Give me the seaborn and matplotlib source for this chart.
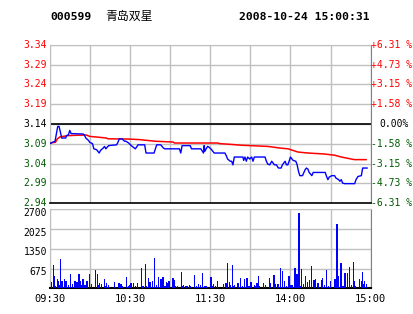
import numpy as np
import pandas as pd
import matplotlib
matplotlib.use("Agg")
import matplotlib.pyplot as plt
import matplotlib.transforms as mtransforms
import seaborn as sns

# ---------------- data ----------------
stock_code = "000599"
stock_name = "青岛双星"
timestamp = "2008-10-24 15:00:31"
prev_close = 3.14

price_minutes = [0, 4, 6, 7, 9, 12, 12.5, 14, 15, 16, 25, 26, 27, 29, 30, 32, 33, 35, 37, 38,
                 40, 41, 42, 44, 50, 51, 52, 54, 56, 57, 59, 61, 64, 65, 66, 71, 72, 78, 80, 83,
                 85, 86, 97, 98, 99, 105, 106, 113, 115, 115.5, 116, 118, 119, 121, 123, 131, 132,
                 133, 135, 136, 137, 138, 144.5, 145, 146, 147, 148, 149.5, 151, 152, 153, 161,
                 162, 163, 164.5, 166, 167, 168, 169.5, 171, 173, 174, 176, 177, 178, 179, 180,
                 182, 184, 185, 186, 187, 189, 191, 192, 193, 194, 196, 197, 206, 207, 208, 209,
                 211, 213, 214, 216, 217, 218, 219, 220.5, 228, 229, 230.5, 233, 234, 237.5]
price_values = [3.091, 3.097, 3.134, 3.134, 3.105, 3.105, 3.111, 3.113, 3.124, 3.116, 3.115,
                3.112, 3.105, 3.099, 3.094, 3.091, 3.078, 3.076, 3.0675, 3.074, 3.080, 3.084,
                3.078, 3.086, 3.088, 3.094, 3.103, 3.103, 3.097, 3.097, 3.0925, 3.086, 3.078,
                3.0825, 3.088, 3.088, 3.0675, 3.0675, 3.088, 3.088, 3.080, 3.078, 3.078, 3.0675,
                3.086, 3.086, 3.078, 3.078, 3.0675, 3.086, 3.072, 3.084, 3.0825, 3.076, 3.0675,
                3.0675, 3.061, 3.0525, 3.047, 3.047, 3.038, 3.0575, 3.0575, 3.049, 3.0575, 3.047,
                3.0575, 3.0525, 3.0575, 3.047, 3.0575, 3.0575, 3.047, 3.040, 3.038, 3.047, 3.0425,
                3.038, 3.038, 3.030, 3.030, 3.038, 3.047, 3.038, 3.038, 3.047, 3.0575, 3.049,
                3.047, 3.038, 3.022, 3.011, 3.011, 3.026, 3.030, 3.0275, 3.019, 3.011, 3.019,
                3.019, 3.009, 3.001, 3.0075, 3.011, 3.011, 3.005, 3.001, 2.997, 3.001, 2.9925,
                2.991, 2.991, 3.001, 3.009, 3.011, 3.030, 3.030]

avg_minutes = [0, 2.5, 4.2, 5.7, 7.4, 9.9, 13.7, 21.2, 27.4, 29.9, 34.9, 42.3, 43.6, 58.5, 67.3,
               78.5, 92.2, 93.4, 125.8, 127.1, 135.8, 143.3, 163.2, 171.9, 178.2, 185.6, 193.1,
               205.6, 213.1, 218.1, 225.5, 228, 236.7]
avg_values = [3.091, 3.094, 3.094, 3.1025, 3.1075, 3.109, 3.111, 3.112, 3.1125, 3.109, 3.1075,
              3.105, 3.103, 3.1025, 3.101, 3.097, 3.095, 3.0925, 3.0925, 3.091, 3.089, 3.087,
              3.084, 3.080, 3.078, 3.070, 3.0675, 3.065, 3.062, 3.0575, 3.0525, 3.051, 3.051]

vol_minutes = [0.2, 1, 2.5, 3.2, 4, 5.5, 6.2, 7, 8.4, 9.2, 11.4, 12.2, 12.9, 14.4, 15.2, 17.4,
               18.9, 20.4, 21.2, 21.9, 22.7, 23.4, 24.2, 24.9, 26.4, 27.1, 27.9, 29.4, 30.1,
               30.9, 33.9, 35.4, 36.1, 36.9, 38.4, 41.3, 42.1, 42.8, 44.3, 48.1, 48.8, 51.1,
               51.8, 53.3, 54.1, 57.1, 59.3, 60.0, 60.8, 63, 63.8, 66, 68.3, 69, 69.8, 71.3, 72,
               74.2, 75, 75.7, 77.2, 78, 78.7, 80.2, 81, 81.7, 83.2, 84, 84.7, 86.2, 87, 87.7,
               89.2, 92.2, 93, 93.7, 95.2, 98.2, 99, 99.7, 101.2, 101.9, 102.7, 104.2, 104.9,
               105.6, 108.6, 110.1, 110.9, 111.6, 113.1, 113.9, 114.6, 116.1, 116.9,
               119.9, 120.6, 122.1, 122.8, 124.3, 125.8, 129.6, 131.8, 132.6, 134.1, 134.8, 137,
               137.8, 138.5, 140.8, 141.5, 143, 143.8, 144.5, 146, 146.8, 147.5, 149, 149.8,
               150.5, 152.8, 153.5, 155, 155.8, 156.5, 159.5, 161, 161.7, 164, 164.7, 167,
               167.7, 168.5, 170, 170.7, 172.9, 173.7, 175.9, 176.7, 178.9, 180.4, 181.2, 182.7,
               183.4, 184.9, 185.6, 186.4, 187.9, 188.6, 189.4, 190.9, 192.4, 193.9, 194.6,
               195.4, 196.9, 197.6, 198.4, 199.9, 200.6, 201.3, 203.6, 204.3, 205.8, 207.3,
               208.1, 208.8, 210.3, 212.6, 213.3, 214.8, 215.6, 217.8, 218.5, 219.3, 220.8,
               221.5, 222.3, 223, 223.8, 224.5, 225.3, 226.8, 227.5, 228.3, 231.3, 232.8, 234.2,
               235, 235.7, 237.2]
vol_values = [229, 206, 812, 412, 80, 332, 263, 103, 995, 240, 332, 240, 103, 103, 503, 137,
              240, 206, 103, 503, 240, 103, 240, 332, 103, 80, 263, 480, 229, 137, 641, 480,
              103, 172, 137, 309, 80, 194, 103, 206, 69, 103, 172, 149, 69, 378, 69, 103, 172,
              172, 69, 172, 686, 69, 69, 824, 69, 343, 206, 69, 240, 1030, 103, 103, 69, 378,
              309, 103, 378, 69, 206, 172, 240, 343, 275, 69, 69, 549, 69, 103, 69, 69, 69, 103,
              69, 69, 446, 69, 103, 137, 103, 515, 103, 69, 69,
              103, 378, 69, 137, 69, 240, 137, 172, 858, 206, 103, 789, 69, 103, 172, 103, 343,
              69, 69, 309, 69, 343, 69, 103, 206, 103, 69, 172, 412, 69, 172, 103, 69, 343, 172,
              69, 446, 137, 137, 137, 686, 583, 240, 69, 412, 103, 103, 69, 686, 480, 137, 2574,
              69, 652, 137, 412, 206, 275, 172, 755, 275, 275, 309, 69, 172, 69, 275, 343, 103,
              618, 69, 69, 240, 240, 309, 2197, 412, 858, 172, 69, 515, 446, 515, 69, 103, 721,
              103, 892, 240, 69, 309, 240, 549, 137, 240, 137]

price_tick_labels = ["2.94", "2.99", "3.04", "3.09", "3.14", "3.19", "3.24", "3.29", "3.34"]
pct_tick_labels = ["-6.31 %", "-4.73 %", "-3.15 %", "-1.58 %", "0.00%",
                   "+1.58 %", "+3.15 %", "+4.73 %", "+6.31 %"]
vol_ticks = [675, 1350, 2025, 2700]
time_ticks = [0, 60, 120, 180, 240]
time_labels = ["09:30", "10:30", "11:30", "14:00", "15:00"]

# ---------------- style ----------------
sns.set_style("white")
plt.rcParams['font.family'] = ['DejaVu Sans Mono', 'Noto Sans CJK SC']

RED = "#FF0000"
GREEN = "#005A00"
GRID = "#C0C0C0"
FS = 7.0

fig = plt.figure(figsize=(4.14, 3.14), dpi=100)
W, H = 414, 314
x0, x1 = 49.7, 370.7
axp = fig.add_axes([x0 / W, 1 - 203.3 / H, (x1 - x0) / W, (203.3 - 44.7) / H])
axv = fig.add_axes([x0 / W, 1 - 288.3 / H, (x1 - x0) / W, (288.3 - 209.3) / H])

step = prev_close * 0.01577
ymin, ymax = prev_close - 4 * step, prev_close + 4 * step
yticks = [prev_close + k * step for k in range(-4, 5)]

# price panel
for t in range(0, 241, 30):
    axp.axvline(t, color=GRID, lw=1, zorder=0)
    axv.axvline(t, color=GRID, lw=1, zorder=0)
for y in yticks:
    axp.axhline(y, color=GRID, lw=1, zorder=0)
axp.axhline(prev_close, color="black", lw=1.2, zorder=1)

df_p = pd.DataFrame({"minute": price_minutes, "price": price_values})
df_a = pd.DataFrame({"minute": avg_minutes, "avg": avg_values})
sns.lineplot(data=df_a, x="minute", y="avg", ax=axp, color=RED, lw=1.1,
             estimator=None, sort=False, zorder=3)
sns.lineplot(data=df_p, x="minute", y="price", ax=axp, color="#0000FF", lw=1.0,
             estimator=None, sort=False, zorder=4)

axp.set_xlim(0, 240)
axp.set_ylim(ymin, ymax)
axp.set_xticks([])
axp.set_yticks([])
axp.set_xlabel("")
axp.set_ylabel("")
for s in ["top", "left"]:
    axp.spines[s].set_color(GRID)
axp.spines["right"].set_color("#808080")
axp.spines["bottom"].set_color("black")
axp.spines["bottom"].set_linewidth(1.2)

trans_l = mtransforms.blended_transform_factory(fig.transFigure, axp.transData)
for y, lab in zip(yticks, price_tick_labels):
    if abs(y - prev_close) < 1e-9:
        c = "black"
    elif y > prev_close:
        c = RED
    else:
        c = GREEN
    fig.text(47 / W, y, lab, transform=trans_l, ha="right", va="center",
             color=c, fontsize=FS)
for y, lab in zip(yticks, pct_tick_labels):
    if abs(y - prev_close) < 1e-9:
        c, xx = "black", 379
    elif y > prev_close:
        c, xx = RED, 371.5
    else:
        c, xx = GREEN, 371.5
    fig.text(xx / W, y, lab, transform=trans_l, ha="left", va="center",
             color=c, fontsize=FS)

# volume panel
for v in vol_ticks:
    axv.axhline(v, color=GRID, lw=1, zorder=0)
axv.bar(vol_minutes, vol_values, width=0.78, color="#0000FF", linewidth=0,
        antialiased=False, zorder=3)
axv.set_xlim(0, 240)
axv.set_ylim(0, 2700)
axv.set_yticks([])
axv.set_xticks([])
for s in ["top", "left"]:
    axv.spines[s].set_color(GRID)
axv.spines["right"].set_color("#808080")
axv.spines["bottom"].set_color("black")
axv.spines["bottom"].set_linewidth(1.5)

trans_v = mtransforms.blended_transform_factory(fig.transFigure, axv.transData)
for v in vol_ticks:
    fig.text(47 / W, v - 120, str(v), transform=trans_v, ha="right", va="center",
             color="black", fontsize=FS)

trans_t = mtransforms.blended_transform_factory(axv.transData, fig.transFigure)
for t, lab in zip(time_ticks, time_labels):
    fig.text(t, 1 - 298.5 / H, lab, transform=trans_t, ha="center", va="center",
             color="black", fontsize=FS + 0.5)

# title
fig.text(50 / W, 1 - 17 / H, stock_code, ha="left", va="center", fontsize=8.2,
         fontweight="bold", color="black")
fig.text(105 / W, 1 - 16.5 / H, stock_name, ha="left", va="center", fontsize=8.6,
         family=['Noto Sans CJK SC', 'DejaVu Sans'], color="black")
fig.text(370 / W, 1 - 17 / H, timestamp, ha="right", va="center", fontsize=8.2,
         fontweight="bold", color="black")

fig.savefig("out.png", dpi=100, facecolor="white")
